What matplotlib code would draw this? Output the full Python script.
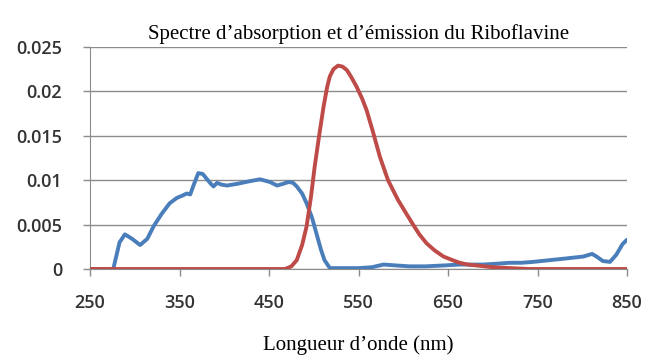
import matplotlib
matplotlib.use("Agg")
import matplotlib.pyplot as plt

# absorption (blue) - wavelength in nm
abs_nm = [250, 276, 283, 289, 297, 306, 314, 321, 330, 339, 347, 354, 358, 362, 366, 371,
          376, 380, 385, 388, 392, 397, 403, 415, 429, 440, 451, 459, 466, 472, 477,
          481, 487, 492, 498, 503, 508, 512, 518, 530, 550, 565, 578, 592, 607, 625,
          645, 663, 689, 705, 719, 732, 745, 764, 783, 801, 811, 816, 823, 831, 838, 845, 850]
abs_val = [0, 0, 0.0030, 0.0039, 0.0034, 0.0027, 0.0034, 0.0048, 0.0062, 0.0074, 0.0080, 0.0083,
           0.0085, 0.0084, 0.0095, 0.0108, 0.0107, 0.0102, 0.0096, 0.0093, 0.0097, 0.0095,
           0.0094, 0.0096, 0.0099, 0.0101, 0.0098, 0.0094, 0.0096, 0.0098, 0.0097,
           0.0093, 0.0085, 0.0074, 0.0058, 0.0040, 0.0022, 0.0010, 0.0001, 0.0001, 0.0001, 0.0002,
           0.0005, 0.0004, 0.0003, 0.0003, 0.0004, 0.0005, 0.0005, 0.0006, 0.0007, 0.0007,
           0.0008, 0.0010, 0.0012, 0.0014, 0.0017, 0.0014, 0.0009, 0.0008, 0.0016, 0.0028, 0.0033]

# emission (red)
em_nm = [250, 468, 475, 481, 487, 492, 497, 501, 506, 511, 515, 518, 522, 527, 532, 537,
         542, 548, 554, 559, 566, 574, 583, 594, 603, 611, 618, 626, 635, 645, 655, 663,
         672, 682, 700, 719, 740, 850]
em_val = [0, 0, 0.0003, 0.0010, 0.0027, 0.0048, 0.0082, 0.0115, 0.0150, 0.0183, 0.0205,
          0.0217, 0.0225, 0.0229, 0.0228, 0.0224, 0.0216, 0.0205, 0.0192, 0.0179, 0.0155,
          0.0126, 0.0100, 0.0078, 0.0063, 0.0050, 0.0039, 0.0029, 0.0021, 0.0014, 0.0010,
          0.0007, 0.0005, 0.0004, 0.0002, 0.0001, 0, 0]

xticks = [250, 350, 450, 550, 650, 750, 850]
yticks = [0, 0.005, 0.01, 0.015, 0.02, 0.025]
ylabels = ["0", "0.005", "0.01", "0.015", "0.02", "0.025"]

fig = plt.figure(figsize=(6.48, 3.57), dpi=100)
ax = fig.add_axes([90 / 648, 1 - 269 / 357, (627 - 90) / 648, (269 - 47) / 357])

ax.plot(abs_nm, abs_val, color="#4a7ebb", lw=2.8, solid_capstyle="round",
        solid_joinstyle="round", zorder=3)
ax.plot(em_nm, em_val, color="#be4b48", lw=2.8, solid_capstyle="round",
        solid_joinstyle="round", zorder=3)

ax.set_xlim(250, 850)
ax.set_ylim(0, 0.025)
ax.set_xticks(xticks)
ax.set_yticks(yticks)
ax.set_yticklabels(ylabels)
ax.yaxis.grid(True, color="#8c8c8c", lw=1.0)
ax.set_axisbelow(True)

for s in ["top", "right"]:
    ax.spines[s].set_visible(False)
ax.spines["left"].set_color("#8c8c8c")
ax.spines["bottom"].set_color("#8c8c8c")
ax.tick_params(direction="out", length=5, color="#8c8c8c", width=1,
               labelsize=13, labelcolor="#333333")
ax.tick_params(axis="x", pad=13)
ax.tick_params(axis="y", pad=15)
for lab in ax.get_xticklabels() + ax.get_yticklabels():
    lab.set_family("Open Sans")
    lab.set_weight("semibold")

ax.set_title("Spectre d\u2019absorption et d\u2019émission du Riboflavine",
             family="Liberation Serif", fontsize=15, pad=6)
ax.set_xlabel("Longueur d\u2019onde (nm)", family="Liberation Serif", fontsize=15, labelpad=17)

fig.savefig("out.png", dpi=100)
